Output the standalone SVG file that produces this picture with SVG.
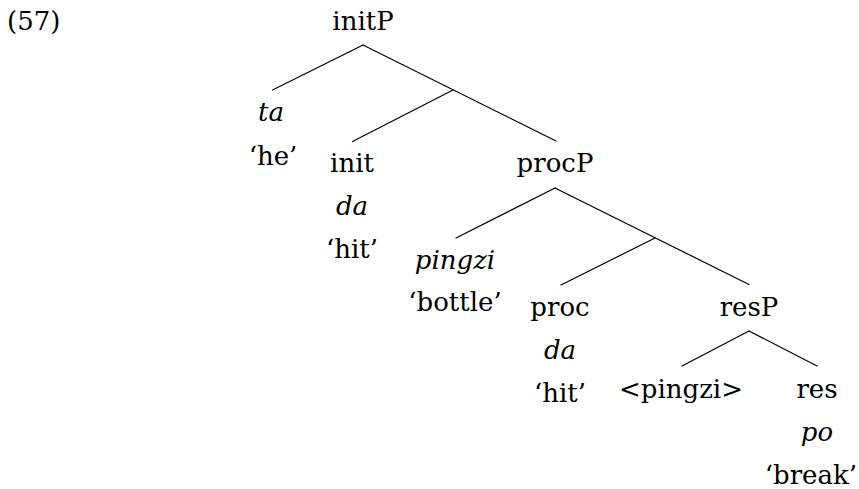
<svg xmlns="http://www.w3.org/2000/svg" width="859" height="489" viewBox="0 0 859 489">
<style>
text { font-family: "DejaVu Serif", "Liberation Serif", serif; font-size: 26px; fill: #000; text-anchor: middle; }
.it { font-style: italic; }
.edge { stroke: #000; stroke-width: 1.2; fill: none; stroke-linecap: round; }
</style>
<rect width="859" height="489" fill="#fff"/>
<text x="7" y="30" style="text-anchor:start">(57)</text>
<g id="connectors">
  <line class="edge" x1="363" y1="45" x2="272.5" y2="90"/>
  <line class="edge" x1="363" y1="45" x2="556" y2="141"/>
  <line class="edge" x1="453" y1="90" x2="352.5" y2="141.5"/>
  <line class="edge" x1="555" y1="188" x2="456" y2="238"/>
  <line class="edge" x1="555" y1="188" x2="749" y2="284.5"/>
  <line class="edge" x1="655" y1="238" x2="561" y2="285"/>
  <line class="edge" x1="749" y1="331" x2="682" y2="366"/>
  <line class="edge" x1="749" y1="331" x2="817" y2="366"/>
</g>
<g id="initP"><text x="363" y="30">initP</text></g>
<g id="ta"><text class="it" x="271" y="121">ta</text><text x="273" y="165">‘he’</text></g>
<g id="init"><text x="352" y="172">init</text><text class="it" x="352" y="215">da</text><text x="352" y="258">‘hit’</text></g>
<g id="procP"><text x="555" y="172">procP</text></g>
<g id="pingzi"><text class="it" x="455" y="269">pingzi</text><text x="455" y="311">‘bottle’</text></g>
<g id="proc"><text x="560" y="316">proc</text><text class="it" x="560" y="359">da</text><text x="560" y="402">‘hit’</text></g>
<g id="resP"><text x="749" y="316">resP</text></g>
<g id="pingzi-copy"><text x="681" y="398">&lt;pingzi&gt;</text></g>
<g id="res"><text x="817" y="398">res</text><text class="it" x="817" y="441">po</text><text x="857" y="484" style="text-anchor:end">‘break’</text></g>
</svg>
